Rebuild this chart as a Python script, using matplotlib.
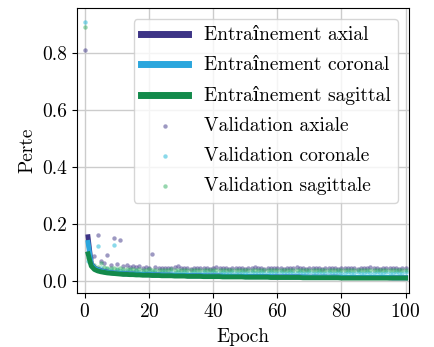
import numpy as np
import matplotlib
matplotlib.use('Agg')
import matplotlib.pyplot as plt

plt.rcParams['font.family'] = ['cmr10', 'DejaVu Serif']
plt.rcParams['mathtext.fontset'] = 'cm'
plt.rcParams['axes.formatter.use_mathtext'] = True
plt.rcParams['font.size'] = 14

# training loss, epochs 1..100
train_epochs = np.arange(1, 101)
train_axial = [0.155, 0.060, 0.045, 0.040, 0.036, 0.033, 0.031, 0.029, 0.028, 0.027,
               0.026, 0.025, 0.025, 0.024, 0.024, 0.023, 0.023, 0.022, 0.022, 0.022,
               0.021, 0.021, 0.021, 0.020, 0.020, 0.020, 0.020, 0.019, 0.019, 0.019,
               0.019, 0.018, 0.018, 0.018, 0.018, 0.018, 0.017, 0.017, 0.017, 0.017,
               0.017, 0.017, 0.016, 0.016, 0.016, 0.016, 0.016, 0.016, 0.016, 0.015,
               0.015, 0.015, 0.015, 0.015, 0.015, 0.015, 0.015, 0.014, 0.014, 0.014,
               0.014, 0.014, 0.014, 0.014, 0.014, 0.014, 0.014, 0.013, 0.013, 0.013,
               0.013, 0.013, 0.013, 0.013, 0.013, 0.013, 0.013, 0.013, 0.013, 0.012,
               0.012, 0.012, 0.012, 0.012, 0.012, 0.012, 0.012, 0.012, 0.012, 0.012,
               0.012, 0.012, 0.012, 0.012, 0.011, 0.011, 0.011, 0.011, 0.011, 0.011]
train_coronal = [0.135, 0.058, 0.044, 0.039, 0.035, 0.032, 0.030, 0.029, 0.028, 0.027,
                 0.026, 0.025, 0.025, 0.024, 0.024, 0.023, 0.023, 0.023, 0.022, 0.022,
                 0.022, 0.021, 0.021, 0.021, 0.020, 0.020, 0.020, 0.020, 0.019, 0.019,
                 0.019, 0.019, 0.018, 0.018, 0.018, 0.018, 0.018, 0.017, 0.017, 0.017,
                 0.017, 0.017, 0.017, 0.016, 0.016, 0.016, 0.016, 0.016, 0.016, 0.016,
                 0.015, 0.015, 0.015, 0.015, 0.015, 0.015, 0.015, 0.015, 0.014, 0.014,
                 0.014, 0.014, 0.014, 0.014, 0.014, 0.014, 0.014, 0.014, 0.013, 0.013,
                 0.013, 0.013, 0.013, 0.013, 0.013, 0.013, 0.013, 0.013, 0.013, 0.013,
                 0.012, 0.012, 0.012, 0.012, 0.012, 0.012, 0.012, 0.012, 0.012, 0.012,
                 0.012, 0.012, 0.012, 0.012, 0.012, 0.011, 0.011, 0.011, 0.011, 0.011]
train_sagittal = [0.095, 0.052, 0.040, 0.035, 0.032, 0.030, 0.028, 0.027, 0.026, 0.025,
                  0.024, 0.023, 0.023, 0.022, 0.022, 0.021, 0.021, 0.020, 0.020, 0.020,
                  0.019, 0.019, 0.019, 0.018, 0.018, 0.018, 0.018, 0.017, 0.017, 0.017,
                  0.017, 0.016, 0.016, 0.016, 0.016, 0.016, 0.015, 0.015, 0.015, 0.015,
                  0.015, 0.015, 0.014, 0.014, 0.014, 0.014, 0.014, 0.014, 0.014, 0.013,
                  0.013, 0.013, 0.013, 0.013, 0.013, 0.013, 0.013, 0.012, 0.012, 0.012,
                  0.012, 0.012, 0.012, 0.012, 0.012, 0.012, 0.012, 0.011, 0.011, 0.011,
                  0.011, 0.011, 0.011, 0.011, 0.011, 0.011, 0.011, 0.011, 0.011, 0.010,
                  0.010, 0.010, 0.010, 0.010, 0.010, 0.010, 0.010, 0.010, 0.010, 0.010,
                  0.010, 0.010, 0.010, 0.010, 0.010, 0.010, 0.010, 0.010, 0.010, 0.010]

# validation loss, epochs 0..100
val_epochs = np.arange(0, 101)
val_axial = [0.810, 0.100, 0.080, 0.088, 0.160, 0.070, 0.062, 0.090, 0.055, 0.150,
             0.060, 0.145, 0.052, 0.056, 0.050, 0.053, 0.048, 0.051, 0.047, 0.049,
             0.046, 0.095, 0.048, 0.045, 0.047, 0.044, 0.046, 0.045, 0.048, 0.053,
             0.045, 0.044, 0.046, 0.043, 0.045, 0.047, 0.044, 0.046, 0.045, 0.043,
             0.046, 0.049, 0.044, 0.045, 0.047, 0.043, 0.045, 0.046, 0.044, 0.045,
             0.043, 0.046, 0.045, 0.048, 0.044, 0.045, 0.043, 0.046, 0.045, 0.044,
             0.047, 0.045, 0.043, 0.046, 0.044, 0.045, 0.048, 0.044, 0.045, 0.043,
             0.046, 0.044, 0.045, 0.047, 0.043, 0.045, 0.046, 0.044, 0.045, 0.043,
             0.046, 0.045, 0.044, 0.047, 0.045, 0.043, 0.046, 0.044, 0.045, 0.048,
             0.044, 0.045, 0.043, 0.046, 0.045, 0.044, 0.047, 0.045, 0.043, 0.046, 0.045]
val_coronal = [0.910, 0.070, 0.060, 0.050, 0.123, 0.045, 0.040, 0.041, 0.038, 0.126,
               0.037, 0.036, 0.035, 0.034, 0.035, 0.033, 0.034, 0.032, 0.033, 0.031,
               0.032, 0.030, 0.031, 0.029, 0.030, 0.031, 0.029, 0.030, 0.028, 0.030,
               0.029, 0.031, 0.028, 0.029, 0.030, 0.028, 0.029, 0.030, 0.028, 0.029,
               0.030, 0.028, 0.029, 0.031, 0.028, 0.029, 0.030, 0.028, 0.029, 0.030,
               0.028, 0.029, 0.030, 0.028, 0.029, 0.031, 0.028, 0.029, 0.030, 0.028,
               0.029, 0.030, 0.028, 0.029, 0.030, 0.028, 0.029, 0.031, 0.028, 0.029,
               0.030, 0.028, 0.029, 0.030, 0.028, 0.029, 0.030, 0.028, 0.029, 0.031,
               0.028, 0.029, 0.030, 0.028, 0.029, 0.030, 0.028, 0.029, 0.030, 0.028,
               0.029, 0.031, 0.028, 0.029, 0.030, 0.028, 0.029, 0.030, 0.028, 0.029, 0.030]
val_sagittal = [0.890, 0.082, 0.065, 0.055, 0.050, 0.063, 0.048, 0.046, 0.045, 0.044,
                0.043, 0.044, 0.042, 0.043, 0.041, 0.042, 0.040, 0.041, 0.040, 0.039,
                0.041, 0.040, 0.038, 0.039, 0.040, 0.038, 0.039, 0.041, 0.038, 0.040,
                0.039, 0.037, 0.039, 0.040, 0.038, 0.039, 0.037, 0.038, 0.040, 0.038,
                0.039, 0.037, 0.038, 0.040, 0.038, 0.039, 0.037, 0.038, 0.039, 0.040,
                0.038, 0.037, 0.039, 0.038, 0.040, 0.038, 0.037, 0.039, 0.038, 0.039,
                0.037, 0.038, 0.040, 0.038, 0.039, 0.037, 0.038, 0.039, 0.038, 0.040,
                0.037, 0.038, 0.039, 0.038, 0.037, 0.039, 0.038, 0.040, 0.038, 0.037,
                0.039, 0.038, 0.039, 0.037, 0.038, 0.040, 0.038, 0.039, 0.037, 0.038,
                0.039, 0.038, 0.037, 0.039, 0.038, 0.040, 0.038, 0.037, 0.039, 0.038, 0.039]

c_axial = '#3d3486'
c_coronal = '#2ba6dd'
c_sagittal = '#138a4b'

fig = plt.figure(figsize=(4.34, 3.47), dpi=100)
ax = fig.add_axes([0.177, 0.156, 0.765, 0.821])

ax.plot(train_epochs, train_axial, color=c_axial, lw=3.5, label='Entraînement axial')
ax.plot(train_epochs, train_coronal, color=c_coronal, lw=3.5, label='Entraînement coronal')
ax.plot(train_epochs, train_sagittal, color=c_sagittal, lw=3.5, label='Entraînement sagittal')
ax.scatter(val_epochs, val_axial, s=10, color=c_axial, alpha=0.5, lw=0, label='Validation axiale')
ax.scatter(val_epochs, val_coronal, s=10, color='#3cc0dc', alpha=0.6, lw=0, label='Validation coronale')
ax.scatter(val_epochs, val_sagittal, s=10, color='#2fae5f', alpha=0.5, lw=0, label='Validation sagittale')

ax.set_xlim(-2.5, 101)
ax.set_ylim(-0.042, 0.958)
ax.set_xticks([0, 20, 40, 60, 80, 100])
ax.set_yticks([0.0, 0.2, 0.4, 0.6, 0.8])
ax.set_yticklabels(['0.0', '0.2', '0.4', '0.6', '0.8'])
ax.grid(True, color='#cccccc', lw=1)
ax.set_axisbelow(True)
ax.set_xlabel('Epoch', labelpad=5)
ax.set_ylabel('Perte', labelpad=4)
leg = ax.legend(loc='upper right', fontsize=14, handlelength=2.4, borderaxespad=0.55,
                labelspacing=0.62)
for line in leg.get_lines():
    line.set_linewidth(5)

fig.savefig('out.png', dpi=100)
